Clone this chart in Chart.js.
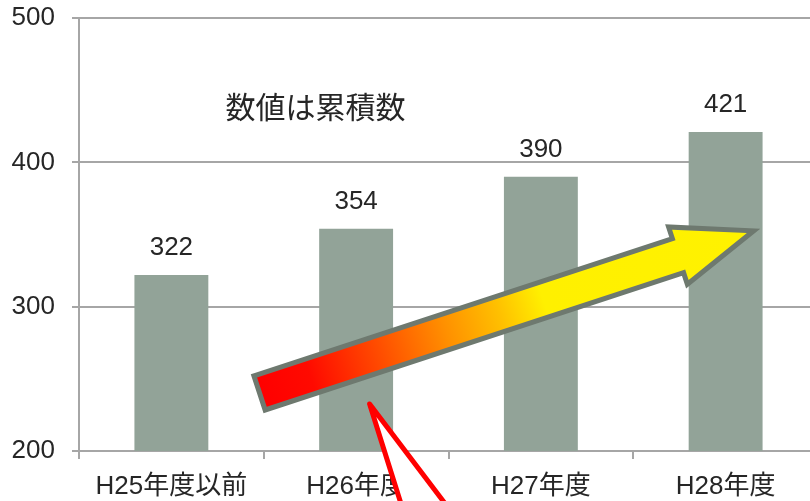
<!DOCTYPE html>
<html>
<head>
<meta charset="utf-8">
<script src="https://cdn.jsdelivr.net/npm/chart.js@4"></script>
<style>
  html, body { margin: 0; padding: 0; background: #fff; overflow: hidden; width: 810px; height: 501px; }
  #wrap { width: 818px; height: 501px; }
</style>
</head>
<body>
<div id="wrap"><canvas id="chart" width="818" height="501"></canvas></div>
<script>
// ------------ DATA -------------
const categories = ["H25年度以前", "H26年度", "H27年度", "H28年度"];
const values = [322, 354, 390, 421];
const yTicks = [200, 300, 400, 500];
const noteText = "数値は累積数";

const FONT = "'Liberation Sans', Arial, 'Noto Sans CJK JP', sans-serif";
const TEXT = "#262626";
const GRID = "#a6a6a6";

// convert (category index, value) into pixels through the chart scales
function px(chart, idx, val) {
    return {
        x: chart.scales.x.getPixelForValue(idx),
        y: chart.scales.y.getPixelForValue(val)
    };
}

// ================== VALUE LABELS + NOTE ==================
const labelPlugin = {
    id: "labels",
    afterDatasetsDraw(chart) {
        const ctx = chart.ctx;
        const meta = chart.getDatasetMeta(0);
        ctx.save();
        ctx.fillStyle = TEXT;
        ctx.font = "26px " + FONT;
        ctx.textAlign = "center";
        ctx.textBaseline = "middle";
        meta.data.forEach((bar, i) => {
            ctx.fillText(String(values[i]), bar.x, bar.y - 27);
        });
        // note text
        const p = px(chart, 0.78, 436.7);
        ctx.font = "30px " + FONT;
        ctx.fillText(noteText, p.x, p.y);
        ctx.restore();
    }
};

// ================== ARROW + CALLOUT ==================
const decoPlugin = {
    id: "deco",
    afterDraw(chart) {
        const ctx = chart.ctx;
        ctx.save();

        // big gradient arrow
        const a = px(chart, 0.49, 240.8);
        const b = px(chart, 3.115, 351.0);
        const dx = b.x - a.x, dy = b.y - a.y;
        const len = Math.hypot(dx, dy);
        const ux = dx / len, uy = dy / len;
        const nx = -uy, ny = ux;
        const shaftHalf = 15.5, headHalf = 26.5, headLen = 70;
        const base = len - headLen;
        const pt = (along, perp) => [a.x + ux * along + nx * perp, a.y + uy * along + ny * perp];
        const poly = [
            pt(0, -shaftHalf), pt(base, -shaftHalf), pt(base, -headHalf),
            pt(len, 0),
            pt(base, headHalf), pt(base, shaftHalf), pt(0, shaftHalf)
        ];
        const grad = ctx.createLinearGradient(a.x, a.y, b.x, b.y);
        grad.addColorStop(0, "#ff0000");
        grad.addColorStop(0.1, "#ff0a00");
        grad.addColorStop(0.25, "#ff5000");
        grad.addColorStop(0.38, "#ff9000");
        grad.addColorStop(0.49, "#ffc000");
        grad.addColorStop(0.58, "#fff000");
        grad.addColorStop(1, "#fff200");
        ctx.beginPath();
        poly.forEach((p, i) => i ? ctx.lineTo(p[0], p[1]) : ctx.moveTo(p[0], p[1]));
        ctx.closePath();
        ctx.lineWidth = 10;
        ctx.lineJoin = "miter";
        ctx.strokeStyle = "#6e796f";
        ctx.stroke();
        ctx.fillStyle = grad;
        ctx.fill();

        // red callout tail
        const apex = px(chart, 1.073, 232.6);
        const l = px(chart, 1.271, 152);
        const r = px(chart, 1.550, 152);
        ctx.beginPath();
        ctx.moveTo(l.x, l.y);
        ctx.lineTo(apex.x, apex.y);
        ctx.lineTo(r.x, r.y);
        ctx.closePath();
        ctx.fillStyle = "#ffffff";
        ctx.fill();
        ctx.beginPath();
        ctx.moveTo(l.x, l.y);
        ctx.lineTo(apex.x, apex.y);
        ctx.lineTo(r.x, r.y);
        ctx.lineWidth = 5;
        ctx.lineJoin = "round";
        ctx.strokeStyle = "#ff0000";
        ctx.stroke();

        ctx.restore();
    }
};

// ================== CHART ==================
new Chart(document.getElementById("chart"), {
    type: "bar",
    data: {
        labels: categories,
        datasets: [{
            data: values,
            backgroundColor: "#92a398",
            borderWidth: 0,
            categoryPercentage: 1,
            barPercentage: 0.4
        }]
    },
    options: {
        responsive: false,
        animation: false,
        devicePixelRatio: 1,
        layout: { padding: { top: 18, left: 0, right: 0, bottom: 0 } },
        plugins: {
            legend: { display: false },
            tooltip: { enabled: false }
        },
        scales: {
            x: {
                offset: true,
                grid: {
                    drawOnChartArea: false,
                    color: GRID,
                    lineWidth: 2,
                    tickLength: 8,
                    offset: true
                },
                border: { color: GRID, width: 2 },
                ticks: {
                    color: TEXT,
                    font: { size: 26, family: FONT },
                    padding: 12,
                    maxRotation: 0,
                    autoSkip: false
                },
                afterFit(scale) { scale.height = 50; }
            },
            y: {
                min: yTicks[0],
                max: yTicks[yTicks.length - 1],
                afterBuildTicks(scale) {
                    scale.ticks = yTicks.map(v => ({ value: v }));
                },
                grid: {
                    color: GRID,
                    lineWidth: 2,
                    tickLength: 7
                },
                border: { color: GRID, width: 2 },
                ticks: {
                    color: TEXT,
                    font: { size: 26, family: FONT },
                    padding: 17
                },
                afterFit(scale) {
                    scale.width = 79;
                    scale.paddingTop = 0;
                    scale.paddingBottom = 0;
                }
            }
        }
    },
    plugins: [labelPlugin, decoPlugin]
});
</script>
</body>
</html>
